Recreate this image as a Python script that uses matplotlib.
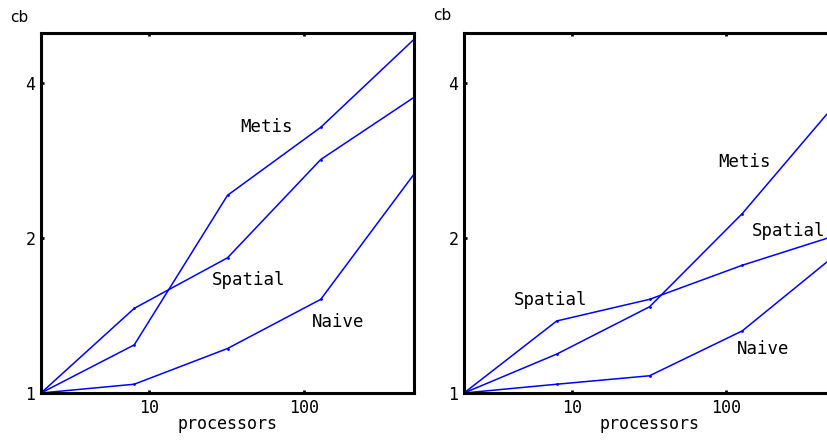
import matplotlib
matplotlib.use("Agg")
import matplotlib.pyplot as plt
from matplotlib.ticker import FixedLocator, NullLocator

# processors (x) and cb values
procs = [2, 8, 32, 128, 512]

# left panel
metis_l = [1.0, 1.24, 2.42, 3.28, 4.86]
spatial_l = [1.0, 1.46, 1.83, 2.84, 3.75]
naive_l = [1.0, 1.04, 1.22, 1.52, 2.66]

# right panel
metis_r = [1.0, 1.19, 1.47, 2.23, 3.63]
spatial_r = [1.0, 1.38, 1.52, 1.77, 2.02]
naive_r = [1.0, 1.04, 1.08, 1.32, 1.85]

x_ticks = [10, 100]
x_ticklabels = ["10", "100"]
y_ticks = [1, 2, 4]
y_ticklabels = ["1", "2", "4"]

# (text, x, y, ha) label spots in data units
labels_l = [("Metis", 57, 3.29, "center"),
            ("Spatial", 44, 1.66, "center"),
            ("Naive", 165, 1.376, "center")]
labels_r = [("Spatial", 7.3, 1.516, "center"),
            ("Metis", 133, 2.81, "center"),
            ("Spatial", 148, 2.06, "left"),
            ("Naive", 175, 1.22, "center")]

mono = "DejaVu Sans Mono"
blue = "#0000ff"

fig = plt.figure(figsize=(8.27, 4.44), dpi=100)
ax1 = fig.add_axes([41 / 827, 51 / 444, 373 / 827, 360 / 444])
ax2 = fig.add_axes([464 / 827, 51 / 444, 371 / 827, 360 / 444])


def setup(ax, series, labels):
    for ys in series:
        ax.plot(procs, ys, color=blue, linewidth=1.1, marker=".", markersize=2)
    ax.set_xscale("log")
    ax.set_yscale("log", base=2)
    ax.set_xlim(2, 512)
    ax.set_ylim(1, 5)
    ax.xaxis.set_major_locator(FixedLocator(x_ticks))
    ax.xaxis.set_minor_locator(NullLocator())
    ax.set_xticklabels(x_ticklabels)
    ax.yaxis.set_major_locator(FixedLocator(y_ticks))
    ax.yaxis.set_minor_locator(NullLocator())
    ax.set_yticklabels(y_ticklabels)
    ax.tick_params(direction="in", length=2, width=2, top=True, right=False,
                   labelsize=12, pad=4, colors="black")
    for lab in ax.get_xticklabels() + ax.get_yticklabels():
        lab.set_family(mono)
    for sp in ax.spines.values():
        sp.set_linewidth(2.2)
        sp.set_color("black")
    ax.set_xlabel("processors", family=mono, fontsize=12, labelpad=-1)
    for txt, x, y, ha in labels:
        ax.text(x, y, txt, family=mono, fontsize=12.5, ha=ha, va="center")


setup(ax1, [metis_l, spatial_l, naive_l], labels_l)
setup(ax2, [metis_r, spatial_r, naive_r], labels_r)

fig.text(19 / 827, 1 - 18 / 444, "cb", fontsize=11, ha="center", va="center")
fig.text(442 / 827, 1 - 16 / 444, "cb", fontsize=11, ha="center", va="center")

fig.savefig("out.png", dpi=100)
